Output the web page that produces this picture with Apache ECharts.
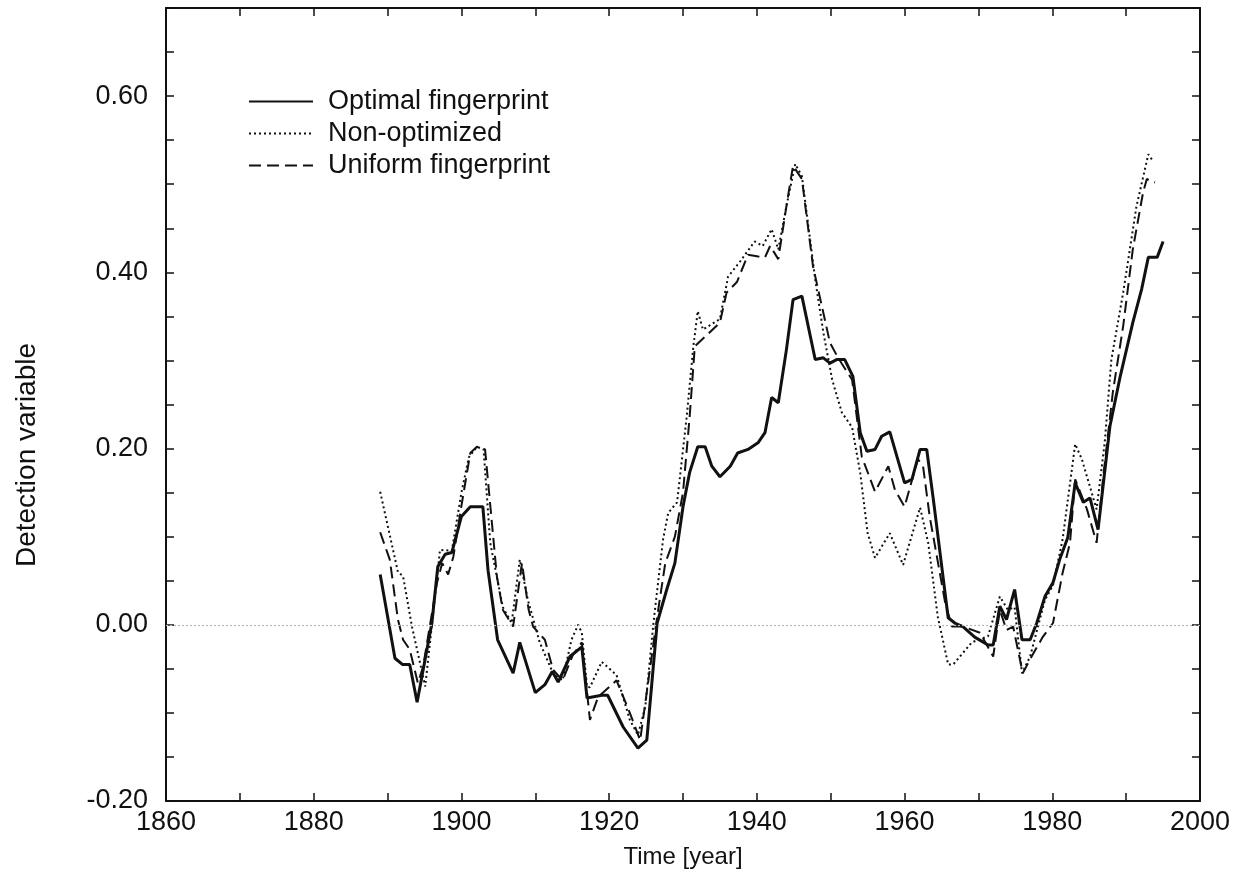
<!DOCTYPE html>
<html>
<head>
<meta charset="utf-8">
<script src="https://cdn.jsdelivr.net/npm/echarts@6/dist/echarts.min.js"></script>
<style>
  html, body { margin: 0; padding: 0; background: #fff; }
  #chart { width: 1241px; height: 880px; }
</style>
</head>
<body>
<div id="chart"></div>
<script>
// series: [year, detection variable]
var optimal = [
  [1889, 0.057], [1891, -0.038], [1892, -0.045], [1893, -0.045], [1894, -0.088],
  [1896, 0.002], [1896.8, 0.066], [1897.8, 0.080], [1898.7, 0.082], [1900, 0.123],
  [1901.2, 0.134], [1902.9, 0.134], [1903.6, 0.062], [1904.9, -0.017], [1907, -0.055],
  [1907.9, -0.020], [1910, -0.077], [1911.3, -0.068], [1912.3, -0.053], [1913.1, -0.065],
  [1914.7, -0.036], [1916.3, -0.025], [1917, -0.083], [1919, -0.080], [1919.8, -0.080],
  [1921.9, -0.116], [1923.9, -0.140], [1925.1, -0.131], [1926.5, 0.002], [1927.8, 0.040],
  [1928.9, 0.070], [1930, 0.134], [1930.9, 0.173], [1932, 0.202], [1933, 0.202],
  [1933.9, 0.180], [1935, 0.168], [1936.4, 0.180], [1937.4, 0.195], [1938.8, 0.199],
  [1940.2, 0.207], [1941.1, 0.218], [1942, 0.258], [1942.9, 0.252], [1944, 0.312],
  [1944.9, 0.369], [1946.1, 0.373], [1947.9, 0.301], [1949, 0.303], [1949.9, 0.297],
  [1950.8, 0.301], [1951.9, 0.301], [1953, 0.282], [1954, 0.218], [1954.9, 0.197],
  [1956, 0.199], [1956.9, 0.214], [1958, 0.219], [1960, 0.161], [1961, 0.165],
  [1962.1, 0.199], [1963, 0.199], [1963.9, 0.142], [1965.9, 0.008], [1966.8, 0.002],
  [1967.9, -0.002], [1969.5, -0.014], [1971.3, -0.023], [1972, -0.023], [1972.9, 0.021],
  [1973.8, 0.006], [1974.9, 0.040], [1975.9, -0.017], [1977, -0.017], [1977.9, 0.002],
  [1979, 0.032], [1980.1, 0.048], [1981, 0.074], [1982.1, 0.099], [1983.1, 0.161],
  [1984.2, 0.139], [1985.1, 0.144], [1986.2, 0.108], [1987.8, 0.225], [1989.2, 0.282],
  [1990.9, 0.343], [1992.1, 0.381], [1993, 0.417], [1994.2, 0.417], [1995, 0.435]
];
var nonOptimized = [
  [1889, 0.151], [1891.4, 0.060], [1892.1, 0.055], [1893.3, -0.002], [1895.1, -0.070],
  [1897.1, 0.085], [1898.7, 0.084], [1900, 0.150], [1901, 0.190], [1902.1, 0.202],
  [1903, 0.199], [1903.9, 0.093], [1905.6, 0.020], [1906.8, 0.002], [1907.9, 0.074],
  [1909, 0.028], [1910.6, -0.020], [1912.4, -0.055], [1913.7, -0.063], [1914.9, -0.017],
  [1915.8, 0.000], [1916.3, -0.009], [1917, -0.070], [1917.4, -0.071], [1919, -0.042],
  [1921, -0.057], [1922.8, -0.108], [1923.9, -0.125], [1924.9, -0.093], [1926, 0.002],
  [1927.3, 0.097], [1928, 0.127], [1929.2, 0.139], [1930.5, 0.236], [1931.4, 0.316],
  [1932, 0.356], [1932.7, 0.335], [1935, 0.347], [1936.1, 0.395], [1937.7, 0.412],
  [1939.7, 0.435], [1940.8, 0.430], [1942, 0.449], [1942.9, 0.426], [1944, 0.475],
  [1945.2, 0.523], [1946.1, 0.509], [1947.9, 0.392], [1949, 0.332], [1950.2, 0.278],
  [1951.5, 0.241], [1952.9, 0.224], [1954, 0.172], [1955, 0.104], [1956, 0.076],
  [1958, 0.104], [1959.8, 0.068], [1962.1, 0.133], [1963.2, 0.093], [1964.5, 0.009],
  [1965.9, -0.045], [1966.6, -0.045], [1969.1, -0.020], [1971.3, -0.013], [1972.9, 0.032],
  [1974, 0.017], [1974.9, 0.020], [1975.9, -0.055], [1977, -0.036], [1979, 0.028],
  [1980.1, 0.045], [1981.4, 0.097], [1983.1, 0.205], [1984, 0.188], [1986, 0.131],
  [1987.1, 0.207], [1988, 0.301], [1989.6, 0.377], [1991.4, 0.475], [1993, 0.534],
  [1993.5, 0.528]
];
var uniform = [
  [1889, 0.105], [1890.3, 0.074], [1891.4, 0.006], [1892.1, -0.017], [1893, -0.028],
  [1894.1, -0.066], [1894.8, -0.048], [1896.7, 0.048], [1897.4, 0.070], [1898.2, 0.057],
  [1898.9, 0.077], [1900, 0.135], [1901.2, 0.195], [1902.1, 0.202], [1903.2, 0.199],
  [1904.8, 0.055], [1905.6, 0.017], [1907, -0.002], [1908.2, 0.070], [1909.1, 0.017],
  [1909.7, -0.002], [1911.3, -0.017], [1912.4, -0.051], [1913.7, -0.063], [1915.1, -0.034],
  [1916.3, -0.020], [1917.4, -0.108], [1918.5, -0.082], [1921, -0.063], [1922.8, -0.100],
  [1924.2, -0.131], [1926.5, 0.009], [1927.6, 0.070], [1928.9, 0.100], [1930, 0.150],
  [1930.9, 0.236], [1931.6, 0.316], [1933, 0.327], [1935, 0.343], [1935.9, 0.377],
  [1937.3, 0.389], [1938.8, 0.420], [1940.2, 0.418], [1941.1, 0.417], [1941.8, 0.430],
  [1942.9, 0.415], [1944, 0.475], [1944.9, 0.521], [1946.1, 0.506], [1947.6, 0.407],
  [1948.5, 0.373], [1949.9, 0.320], [1951, 0.303], [1952.9, 0.278], [1954.2, 0.191],
  [1956, 0.151], [1957.8, 0.180], [1958.7, 0.153], [1960, 0.134], [1961.8, 0.188],
  [1962.5, 0.180], [1963.4, 0.123], [1965.5, 0.025], [1966.4, -0.002], [1967.9, -0.002],
  [1970.2, -0.009], [1972, -0.036], [1972.9, 0.017], [1973.8, -0.006], [1974.7, -0.002],
  [1976, -0.055], [1977.2, -0.036], [1978.7, -0.014], [1980.1, 0.002], [1981.4, 0.059],
  [1982.4, 0.093], [1983.1, 0.165], [1984.7, 0.131], [1986, 0.093], [1986.9, 0.168],
  [1988.2, 0.264], [1989.6, 0.339], [1990.9, 0.426], [1992.3, 0.491], [1992.8, 0.506],
  [1993.9, 0.502]
];
var seriesNames = ['Optimal fingerprint', 'Non-optimized', 'Uniform fingerprint'];
var yearTicks = [1860, 1880, 1900, 1920, 1940, 1960, 1980, 2000];
var valueTicks = [-0.2, 0, 0.2, 0.4, 0.6];

var font = 'Liberation Sans, Arial, Helvetica, sans-serif';
var ink = '#111';

var myChart = echarts.init(document.getElementById('chart'));

function isMajorYear(v) { return yearTicks.indexOf(Math.round(v)) >= 0; }
function isMajorValue(v) {
    for (var i = 0; i < valueTicks.length; i++) {
        if (Math.abs(v - valueTicks[i]) < 1e-6) return true;
    }
    return false;
}

// onZero off, otherwise the year axis gets pulled up to y = 0
var axisLine = { show: true, onZero: false, lineStyle: { color: ink, width: 2 } };
var tick = { show: true, inside: true, length: 8, lineStyle: { color: ink, width: 1.5 } };

var option = {
    backgroundColor: '#fff',
    animation: false,
    grid: { left: 166, right: 41, top: 8, bottom: 79, containLabel: false },
    legend: {
        orient: 'vertical',
        left: 243,
        top: 83,
        itemWidth: 64,
        itemHeight: 14,
        itemGap: 5,
        itemStyle: { color: 'transparent', borderColor: 'transparent', borderWidth: 0, opacity: 0 },
        textStyle: { fontFamily: font, fontSize: 27, color: ink, padding: [0, 0, 0, 10] },
        data: seriesNames
    },
    xAxis: [
        {
            type: 'value', min: 1860, max: 2000, interval: 10, position: 'bottom',
            name: 'Time [year]', nameLocation: 'middle', nameGap: 44,
            nameTextStyle: { fontFamily: font, fontSize: 24, color: ink },
            axisLine: axisLine, axisTick: tick, splitLine: { show: false },
            axisLabel: {
                fontFamily: font, fontSize: 27, color: ink, margin: 8,
                formatter: function (v) { return isMajorYear(v) ? String(v) : ''; }
            }
        },
        {
            type: 'value', min: 1860, max: 2000, interval: 10, position: 'top',
            axisLine: axisLine, axisTick: tick, splitLine: { show: false },
            axisLabel: { show: false }
        }
    ],
    yAxis: [
        {
            type: 'value', min: -0.2, max: 0.7, interval: 0.05, position: 'left',
            axisLine: axisLine, axisTick: tick, splitLine: { show: false },
            axisLabel: {
                fontFamily: font, fontSize: 27, color: ink, margin: 18,
                formatter: function (v) { return isMajorValue(v) ? v.toFixed(2) : ''; }
            }
        },
        {
            type: 'value', min: -0.2, max: 0.7, interval: 0.05, position: 'right',
            axisLine: axisLine, axisTick: tick, splitLine: { show: false },
            axisLabel: { show: false }
        }
    ],
    graphic: [
        {
            type: 'text', x: 27, y: 455, rotation: Math.PI / 2,
            style: {
                text: 'Detection variable', fontFamily: font, fontSize: 28, fill: ink,
                align: 'center', verticalAlign: 'middle'
            }
        }
    ],
    series: [
        {
            name: seriesNames[0], type: 'line', data: optimal, symbol: 'none',
            lineStyle: { color: ink, width: 3, type: 'solid' },
            itemStyle: { color: ink },
            markLine: {
                silent: true, symbol: 'none', label: { show: false },
                lineStyle: { color: '#b8b8b8', width: 1.2, type: [2, 2], opacity: 1 },
                emphasis: { disabled: true },
                data: [{ yAxis: 0 }]
            },
            z: 4
        },
        {
            name: seriesNames[1], type: 'line', data: nonOptimized, symbol: 'none',
            lineStyle: { color: ink, width: 2, type: [2, 3] },
            itemStyle: { color: ink },
            z: 3
        },
        {
            name: seriesNames[2], type: 'line', data: uniform, symbol: 'none',
            lineStyle: { color: ink, width: 2, type: [12, 6] },
            itemStyle: { color: ink },
            z: 3
        }
    ]
};
myChart.setOption(option);
</script>
</body>
</html>
